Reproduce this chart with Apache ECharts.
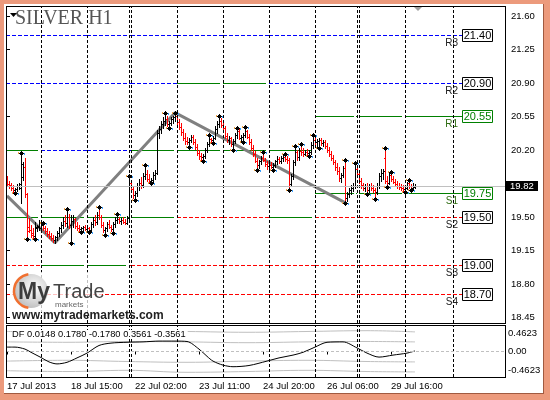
<!DOCTYPE html>
<html><head><meta charset="utf-8">
<script src="https://cdn.jsdelivr.net/npm/echarts@6/dist/echarts.min.js"></script>
<style>html,body{margin:0;padding:0;background:#fff}#c{width:550px;height:400px}</style>
</head><body><div id="c"></div><script>
// ---- data ----
const opens = [19.90,19.84,19.83,19.80,19.78,19.79,19.82,19.80,19.92,20.02,19.74,19.40,19.36,19.33,19.30,19.38,19.40,19.38,19.43,19.38,19.35,19.32,19.30,19.28,19.26,19.29,19.33,19.38,19.42,19.46,19.44,19.50,19.42,19.46,19.48,19.41,19.38,19.37,19.38,19.40,19.37,19.38,19.36,19.43,19.47,19.45,19.52,19.50,19.42,19.36,19.38,19.43,19.40,19.37,19.43,19.47,19.48,19.46,19.47,19.45,19.44,19.49,19.85,19.79,19.73,19.75,19.82,19.86,19.83,19.93,19.95,19.90,19.88,19.89,19.94,19.96,20.38,20.42,20.47,20.50,20.52,20.47,20.48,20.52,20.54,20.55,20.49,20.44,20.39,20.33,20.29,20.28,20.30,20.34,20.28,20.23,20.17,20.14,20.13,20.14,20.20,20.26,20.31,20.30,20.33,20.42,20.47,20.50,20.46,20.43,20.35,20.30,20.32,20.26,20.29,20.36,20.40,20.33,20.34,20.36,20.40,20.34,20.28,20.22,20.16,20.09,20.04,20.08,20.12,20.10,20.05,20.03,20.04,20.02,20.04,20.08,20.11,20.08,20.12,20.13,20.11,20.10,19.84,19.93,20.07,20.18,20.13,20.19,20.18,20.16,20.18,20.17,20.18,20.25,20.30,20.28,20.29,20.30,20.27,20.28,20.24,20.20,20.16,20.12,20.07,20.02,19.98,19.91,19.94,20.01,19.70,19.74,19.78,19.80,19.82,20.00,19.95,19.88,19.83,19.80,19.82,19.78,19.82,19.80,19.78,19.76,19.82,19.93,19.96,20.12,19.88,19.86,19.94,19.90,19.87,19.84,19.82,19.81,19.80,19.79,19.80,19.86,19.82,19.80,19.81];
const highs = [19.93,19.88,19.86,19.83,19.80,19.84,19.86,20.17,20.07,20.12,19.75,19.49,19.42,19.38,19.45,19.42,19.47,19.43,19.44,19.41,19.38,19.35,19.33,19.31,19.30,19.35,19.40,19.45,19.50,19.52,19.58,19.53,19.52,19.52,19.49,19.45,19.42,19.40,19.41,19.42,19.40,19.39,19.45,19.50,19.52,19.55,19.60,19.52,19.45,19.40,19.45,19.47,19.42,19.45,19.50,19.53,19.50,19.49,19.50,19.48,19.51,19.93,19.88,19.82,19.77,19.85,19.90,19.92,19.96,20.04,19.99,19.95,19.91,19.97,19.99,20.41,20.45,20.50,20.54,20.59,20.55,20.50,20.54,20.56,20.59,20.56,20.52,20.48,20.42,20.38,20.34,20.32,20.36,20.36,20.31,20.26,20.20,20.17,20.16,20.22,20.28,20.36,20.33,20.35,20.45,20.50,20.56,20.53,20.50,20.45,20.38,20.35,20.34,20.31,20.38,20.43,20.42,20.36,20.38,20.44,20.41,20.37,20.31,20.25,20.19,20.12,20.10,20.14,20.18,20.12,20.08,20.06,20.07,20.06,20.10,20.14,20.13,20.14,20.15,20.16,20.14,20.12,19.95,20.10,20.24,20.20,20.22,20.26,20.22,20.20,20.21,20.20,20.28,20.36,20.34,20.31,20.32,20.32,20.30,20.30,20.27,20.23,20.19,20.15,20.10,20.06,20.02,19.96,20.03,20.10,19.76,19.80,19.83,19.86,20.06,20.02,19.97,19.91,19.86,19.84,19.85,19.84,19.86,19.83,19.80,19.85,19.96,20.00,20.00,20.22,19.93,19.96,19.97,19.93,19.90,19.88,19.85,19.84,19.83,19.82,19.87,19.89,19.84,19.86,19.84];
const lows = [19.82,19.80,19.78,19.76,19.75,19.77,19.79,19.65,19.89,19.71,19.27,19.34,19.29,19.28,19.27,19.35,19.36,19.36,19.36,19.33,19.30,19.28,19.26,19.24,19.23,19.26,19.30,19.34,19.38,19.41,19.40,19.38,19.23,19.40,19.38,19.36,19.35,19.34,19.35,19.36,19.35,19.34,19.35,19.40,19.42,19.43,19.48,19.40,19.34,19.31,19.35,19.38,19.35,19.33,19.40,19.44,19.44,19.43,19.44,19.43,19.43,19.48,19.76,19.70,19.68,19.72,19.78,19.80,19.81,19.90,19.88,19.86,19.85,19.87,19.90,19.95,20.33,20.38,20.43,20.46,20.45,20.43,20.46,20.48,20.50,20.47,20.42,20.36,20.30,20.26,20.26,20.23,20.28,20.26,20.21,20.15,20.11,20.10,20.08,20.12,20.18,20.24,20.28,20.27,20.31,20.38,20.44,20.44,20.40,20.33,20.28,20.26,20.24,20.20,20.27,20.33,20.31,20.29,20.28,20.34,20.32,20.26,20.20,20.14,20.07,19.99,20.01,20.05,20.08,20.03,20.00,20.00,20.01,19.99,20.02,20.05,20.06,20.06,20.08,20.09,20.06,19.78,19.82,19.90,20.04,20.10,20.10,20.15,20.14,20.15,20.15,20.14,20.16,20.22,20.25,20.23,20.22,20.25,20.24,20.22,20.18,20.14,20.10,20.05,19.99,19.95,19.88,19.87,19.92,19.65,19.67,19.71,19.74,19.77,19.80,19.92,19.86,19.80,19.78,19.77,19.74,19.76,19.78,19.76,19.69,19.74,19.80,19.88,19.90,19.85,19.81,19.84,19.88,19.85,19.82,19.80,19.79,19.78,19.77,19.76,19.79,19.80,19.78,19.79,19.80];
const closes = [19.84,19.82,19.80,19.78,19.79,19.82,19.84,20.05,20.02,19.74,19.35,19.36,19.31,19.30,19.40,19.41,19.44,19.42,19.38,19.35,19.32,19.30,19.28,19.26,19.29,19.33,19.38,19.42,19.46,19.44,19.50,19.42,19.46,19.48,19.41,19.38,19.37,19.38,19.40,19.37,19.38,19.36,19.43,19.47,19.45,19.52,19.50,19.42,19.36,19.38,19.43,19.40,19.37,19.43,19.47,19.48,19.46,19.47,19.45,19.44,19.49,19.85,19.79,19.73,19.75,19.82,19.86,19.83,19.93,19.95,19.90,19.88,19.89,19.94,19.96,20.38,20.42,20.47,20.50,20.52,20.47,20.48,20.52,20.54,20.55,20.49,20.44,20.39,20.33,20.29,20.28,20.30,20.34,20.28,20.23,20.17,20.14,20.13,20.14,20.20,20.26,20.31,20.30,20.33,20.42,20.47,20.50,20.46,20.43,20.35,20.30,20.32,20.26,20.29,20.36,20.40,20.33,20.34,20.36,20.40,20.34,20.28,20.22,20.16,20.09,20.04,20.08,20.12,20.10,20.05,20.03,20.04,20.02,20.04,20.08,20.11,20.08,20.12,20.13,20.11,20.10,19.84,19.93,20.07,20.18,20.13,20.19,20.18,20.16,20.18,20.17,20.18,20.25,20.30,20.28,20.29,20.30,20.27,20.28,20.24,20.20,20.16,20.12,20.07,20.02,19.98,19.91,19.94,20.01,19.70,19.74,19.78,19.80,19.82,20.00,19.95,19.88,19.83,19.80,19.82,19.78,19.82,19.80,19.78,19.76,19.82,19.93,19.96,19.98,19.88,19.86,19.94,19.90,19.87,19.84,19.82,19.81,19.80,19.79,19.80,19.86,19.82,19.80,19.81,19.82];

const fractalHighIdx = [7,18,30,46,55,61,69,79,84,101,106,115,119,128,139,144,147,153,169,174,189,192,201];
const fractalLowIdx = [4,10,14,32,37,41,49,53,64,72,81,91,98,103,113,118,125,133,141,151,156,169,180,184,190,199,202];

const zigzagIdx = [0,24,84,169];
const zigzagVal = [19.72,19.23,20.59,19.65];

const priceTicks = [21.60,21.25,20.90,20.55,20.20,19.50,19.15,18.80,18.45];
const dfTicks = [0.4623,0,-0.4623];

const xLabelIdx = [0,32,64,96,128,160,192];
const xLabelText = ['17 Jul 2013','18 Jul 15:00','22 Jul 02:00','23 Jul 11:00','24 Jul 20:00','26 Jul 06:00','29 Jul 16:00'];

const separatorIdx = [17,40,61,62,85,108,131,154,175,176,199,223];
const dayEdges = [-0.5,17,40,61,62,85,108,131,154,175,176,199,227.5];

const levels = [21.40,20.90,20.55,20.20,19.75,19.50,19.00,18.70];
const levelDayStyle = ['bbbbbbbbbbbb','bbbbbggbbbbb','--------gggg','gbbbgggg----','--------gggg','gggggrrgrrrr','rggrrrrrrrrr','rrrrrrrrrrrr'];

const pivotValues = [21.40,20.90,20.55,19.75,19.50,19.00,18.70];
const pivotNames = ['R3','R2','R1','S1','S2','S3','S4'];
const pivotGreen = [false,false,true,true,false,false,false];

const dfIdx = [0,4,9,12,17,21,25,30,35,40,46,52,60,68,76,84,90,96,100,103,108,113,121,130,136,143,148,154,160,168,175,180,186,193,200,204];
const dfVal = [0.11,0.11,0.06,-0.02,-0.15,-0.26,-0.31,-0.27,-0.16,-0.04,0.15,0.21,0.23,0.24,0.26,0.26,0.25,0.06,-0.12,-0.24,-0.34,-0.38,-0.35,-0.24,-0.16,-0.09,-0.02,0.11,0.23,0.24,0.09,-0.04,-0.14,-0.09,-0.04,0.0148];

const bandIdx = [0,30,60,90,120,150,180,204];
const bandUp2 = [0.50,0.49,0.51,0.50,0.48,0.50,0.52,0.49];
const bandUp1 = [0.24,0.23,0.25,0.24,0.22,0.24,0.25,0.24];
const bandLo1 = [-0.24,-0.22,-0.25,-0.27,-0.24,-0.22,-0.25,-0.26];
const bandLo2 = [-0.48,-0.50,-0.47,-0.52,-0.50,-0.47,-0.50,-0.51];

// ---- chart ----
const FONT = '"Liberation Sans", Arial, sans-serif';
const chart = echarts.init(document.getElementById('c'), null, {renderer: 'canvas', width: 550, height: 400});

const barData = opens.map((o, i) => [i, o, highs[i], lows[i], closes[i]]);
const fracData = fractalHighIdx.map(i => [i, highs[i]]).concat(fractalLowIdx.map(i => [i, lows[i]]));
const lastClose = closes[closes.length - 1];

const segData = [];
levels.forEach((lv, li) => {
  for (let d = 0; d < dayEdges.length - 1; d++) {
    const s = levelDayStyle[li][d];
    if (s !== '-') segData.push([dayEdges[d], dayEdges[d + 1], lv, 'bgr'.indexOf(s), d === dayEdges.length - 2 ? 1 : 0]);
  }
});

function renderBar(params, api) {
  const i = api.value(0), o = api.value(1), h = api.value(2), l = api.value(3), c = api.value(4);
  const ph = api.coord([i, h]), pl = api.coord([i, l]), po = api.coord([i, o]), pc = api.coord([i, c]);
  const x = Math.floor(ph[0]);
  const col = c >= o ? '#000000' : '#ff0000';
  const yh = Math.round(ph[1]), yl = Math.round(pl[1]);
  return {type: 'group', children: [
    {type: 'rect', shape: {x: x, y: yh, width: 1, height: Math.max(1, yl - yh + 1)}, style: {fill: col}},
    {type: 'rect', shape: {x: x - 1, y: Math.round(po[1]), width: 1, height: 1}, style: {fill: col}},
    {type: 'rect', shape: {x: x + 1, y: Math.round(pc[1]), width: 1, height: 1}, style: {fill: col}}
  ]};
}

function renderFractal(params, api) {
  const p = api.coord([api.value(0), api.value(1)]);
  const cx = Math.floor(p[0]), cy = Math.round(p[1]);
  return {type: 'group', children: [
    {type: 'rect', shape: {x: cx - 3, y: cy - 1, width: 1, height: 2}, style: {fill: '#f0a040'}},
    {type: 'rect', shape: {x: cx + 3, y: cy, width: 1, height: 2}, style: {fill: '#3aa0ff'}},
    {type: 'rect', shape: {x: cx - 2, y: cy, width: 5, height: 1}, style: {fill: '#000'}},
    {type: 'rect', shape: {x: cx, y: cy - 2, width: 1, height: 5}, style: {fill: '#000'}},
    {type: 'rect', shape: {x: cx - 1, y: cy - 1, width: 3, height: 3}, style: {fill: '#000'}}
  ]};
}

const segColors = ['#0000ff', '#008000', '#ff0000'];
function renderSeg(params, api) {
  const k = api.value(3);
  const last = api.value(4);
  const p1 = api.coord([api.value(0), api.value(2)]);
  const p2 = api.coord([api.value(1), api.value(2)]);
  const y = Math.round(p1[1]) + 0.5;
  let xe = p2[0];
  if (k === 1 && !last) xe -= 3;
  return {type: 'line', shape: {x1: Math.round(p1[0]), y1: y, x2: Math.round(xe), y2: y},
    style: {stroke: segColors[k], lineWidth: 1, lineDash: k === 1 ? null : [4, 2]}};
}

function renderPivotLabel(params, api) {
  const v = api.value(0);
  const k = api.value(1);
  const green = pivotGreen[k];
  const p = api.coord([227.5, v]);
  const x = Math.round(p[0]), y = Math.round(p[1]);
  const col = green ? '#008000' : '#000000';
  const tcol = green ? '#2d6b10' : '#202020';
  return {type: 'group', children: [
    {type: 'rect', shape: {x: x + 0.5, y: y - 5.5, width: 30, height: 12}, style: {fill: '#fff', stroke: col, lineWidth: 1}},
    {type: 'text', x: x + 15.5, y: y + 1, style: {text: v.toFixed(2), fill: col, font: '11px ' + FONT, align: 'center', verticalAlign: 'middle'}},
    {type: 'text', x: x - 4, y: y + 8, style: {text: pivotNames[k], fill: tcol, font: '10px ' + FONT, align: 'right', verticalAlign: 'middle'}}
  ]};
}

function renderPriceTag(params, api) {
  const p = api.coord([249, api.value(0)]);
  const y = Math.round(p[1]);
  return {type: 'group', children: [
    {type: 'rect', shape: {x: Math.round(p[0]) + 1, y: y - 5, width: 32, height: 10}, style: {fill: '#000'}},
    {type: 'text', x: Math.round(p[0]) + 5, y: y, style: {text: api.value(0).toFixed(2), fill: '#fff', font: '9.5px ' + FONT, verticalAlign: 'middle'}}
  ]};
}

function sepMarkLine() {
  return {silent: true, symbol: 'none', label: {show: false},
    lineStyle: {color: '#000', type: [3, 2], width: 1},
    data: separatorIdx.map(i => ({xAxis: i}))};
}

const pivotData = pivotValues.map((v, k) => [v, k]);

const option = {
  backgroundColor: '#ffffff',
  animation: false,
  grid: [
    {left: 6, top: 6, width: 499, height: 317, show: false},
    {left: 6, top: 325, width: 499, height: 52, show: false}
  ],
  xAxis: [
    {gridIndex: 0, type: 'value', min: -0.5, max: 249, show: false},
    {gridIndex: 1, type: 'value', min: -0.5, max: 249,
      axisLine: {show: false}, splitLine: {show: false},
      axisTick: {show: true, length: 3, lineStyle: {color: '#000'}, customValues: xLabelIdx},
      axisLabel: {show: true, customValues: xLabelIdx, margin: 4, align: 'left', color: '#000', fontFamily: FONT, fontSize: 9.5,
        formatter: v => xLabelText[xLabelIdx.indexOf(Math.round(v))] || ''}}
  ],
  yAxis: [
    {gridIndex: 0, type: 'value', position: 'right', min: 18.392, max: 21.7045,
      axisLine: {show: false}, splitLine: {show: false},
      axisTick: {show: true, length: 3, lineStyle: {color: '#000'}, customValues: priceTicks},
      axisLabel: {show: true, customValues: priceTicks, margin: 6, color: '#000', fontFamily: FONT, fontSize: 9.5,
        formatter: v => v.toFixed(2)}},
    {gridIndex: 1, type: 'value', position: 'right', min: -0.637, max: 0.662,
      axisLine: {show: false}, splitLine: {show: false},
      axisTick: {show: false},
      axisLabel: {show: true, customValues: dfTicks, margin: 3, color: '#000', fontFamily: FONT, fontSize: 9.5,
        formatter: v => v === 0 ? '0.00' : v.toFixed(4)}}
  ],
  series: [
    {type: 'line', xAxisIndex: 0, yAxisIndex: 0, data: [], markLine: sepMarkLine(), z: 1},
    {type: 'line', xAxisIndex: 1, yAxisIndex: 1, data: [], markLine: sepMarkLine(), z: 1},
    {type: 'line', xAxisIndex: 0, yAxisIndex: 0, data: [], z: 1,
      markLine: {silent: true, symbol: 'none', label: {show: false}, lineStyle: {color: '#c0c0c0', type: 'solid', width: 1}, data: [{yAxis: lastClose}]}},
    {type: 'custom', xAxisIndex: 0, yAxisIndex: 0, data: segData, renderItem: renderSeg, z: 2, silent: true},
    {type: 'line', xAxisIndex: 0, yAxisIndex: 0, data: zigzagIdx.map((i, k) => [i, zigzagVal[k]]),
      showSymbol: false, lineStyle: {color: '#808080', width: 3}, z: 3, silent: true},
    {type: 'custom', xAxisIndex: 0, yAxisIndex: 0, data: barData, renderItem: renderBar, z: 4, silent: true},
    {type: 'custom', xAxisIndex: 0, yAxisIndex: 0, data: fracData, renderItem: renderFractal, z: 5, silent: true},
    {type: 'custom', xAxisIndex: 0, yAxisIndex: 0, data: pivotData, renderItem: renderPivotLabel, z: 6, silent: true, clip: false},
    {type: 'custom', xAxisIndex: 0, yAxisIndex: 0, data: [[lastClose]], renderItem: renderPriceTag, z: 6, silent: true, clip: false},
    // indicator
    {type: 'line', xAxisIndex: 1, yAxisIndex: 1, data: [], z: 1,
      markLine: {silent: true, symbol: 'none', label: {show: false}, lineStyle: {color: '#c0c0c0', type: [3, 2], width: 1}, data: [{yAxis: 0}]}},
    ...[bandUp2, bandUp1, bandLo1, bandLo2].map(arr => ({type: 'line', xAxisIndex: 1, yAxisIndex: 1,
      data: bandIdx.map((i, k) => [i, arr[k]]), smooth: 0.4, showSymbol: false, lineStyle: {color: '#c0c0c0', width: 1}, z: 2, silent: true})),
    {type: 'line', xAxisIndex: 1, yAxisIndex: 1, data: dfIdx.map((i, k) => [i, dfVal[k]]), smooth: 0.3,
      showSymbol: false, lineStyle: {color: '#000', width: 1}, z: 3, silent: true}
  ],
  graphic: [
    // pane borders (crisp 1px)
    {type: 'rect', shape: {x: 6, y: 6, width: 500, height: 1}, style: {fill: '#000'}, z: 90},
    {type: 'rect', shape: {x: 6, y: 323, width: 500, height: 1}, style: {fill: '#000'}, z: 90},
    {type: 'rect', shape: {x: 6, y: 6, width: 1, height: 318}, style: {fill: '#000'}, z: 90},
    {type: 'rect', shape: {x: 505, y: 6, width: 1, height: 318}, style: {fill: '#000'}, z: 90},
    {type: 'rect', shape: {x: 6, y: 325, width: 500, height: 1}, style: {fill: '#000'}, z: 90},
    {type: 'rect', shape: {x: 6, y: 377, width: 500, height: 1}, style: {fill: '#000'}, z: 90},
    {type: 'rect', shape: {x: 6, y: 325, width: 1, height: 53}, style: {fill: '#000'}, z: 90},
    {type: 'rect', shape: {x: 505, y: 325, width: 1, height: 53}, style: {fill: '#000'}, z: 90},
    // frame
    {type: 'rect', shape: {x: 0, y: 0, width: 550, height: 4}, style: {fill: '#ec9a7c'}, z: 100},
    {type: 'rect', shape: {x: 0, y: 0, width: 4, height: 400}, style: {fill: '#ec9a7c'}, z: 100},
    {type: 'rect', shape: {x: 544, y: 0, width: 6, height: 400}, style: {fill: '#ec9a7c'}, z: 100},
    {type: 'rect', shape: {x: 0, y: 394, width: 550, height: 6}, style: {fill: '#ec9a7c'}, z: 100},
    {type: 'rect', shape: {x: 543, y: 4, width: 1, height: 390}, style: {fill: '#a05a40'}, z: 100},
    {type: 'rect', shape: {x: 4, y: 393, width: 540, height: 1}, style: {fill: '#a05a40'}, z: 100},
    // title
    {type: 'text', left: 15, top: 9, style: {text: 'SILVER H1', font: '20px "Liberation Serif", "Times New Roman", serif', fill: '#555555'}, z: 50},
    {type: 'polygon', shape: {points: [[10, 13], [17, 13], [13.5, 17]]}, style: {fill: '#000'}, z: 50},
    {type: 'polygon', shape: {points: [[414, 7], [422, 7], [418, 11]]}, style: {fill: '#a0a0a0'}, z: 50},
    // logo
    {type: 'rect', shape: {x: 12, y: 272, width: 90, height: 40}, style: {fill: 'rgba(255,255,255,0.75)'}, z: 40},
    {type: 'circle', shape: {cx: 31, cy: 291, r: 17}, style: {fill: new echarts.graphic.RadialGradient(0.6, 0.4, 0.7, [{offset: 0, color: '#ffffff'}, {offset: 1, color: '#b8b8b8'}])}, z: 41},
    {type: 'arc', shape: {cx: 31, cy: 291, r: 17, startAngle: Math.PI * 0.55, endAngle: Math.PI * 1.45}, style: {stroke: '#f07030', lineWidth: 2.5, fill: null}, z: 42},
    {type: 'text', left: 18, top: 281, style: {text: 'My', font: 'bold 23px "Liberation Sans", Arial, sans-serif', fill: '#3c3c3c'}, z: 43},
    {type: 'text', left: 53, top: 282, style: {text: 'Trade', font: '20px "Liberation Sans", Arial, sans-serif', fill: '#454545'}, z: 43},
    {type: 'text', left: 55, top: 301, style: {text: 'markets', font: '8px "Liberation Sans", Arial, sans-serif', fill: '#666'}, z: 43},
    {type: 'text', left: 12, top: 310, style: {text: 'www.mytrademarkets.com', font: 'bold 12px "Liberation Sans", Arial, sans-serif', fill: '#222'}, z: 43},
    // indicator label
    {type: 'text', left: 12, top: 330, style: {text: 'DF 0.0148 0.1780 -0.1780 0.3561 -0.3561', font: '9.3px "Liberation Sans", Arial, sans-serif', fill: '#000', backgroundColor: '#fff', padding: [0, 2, 0, 0]}, z: 43}
  ]
};
chart.setOption(option);
</script></body></html>
